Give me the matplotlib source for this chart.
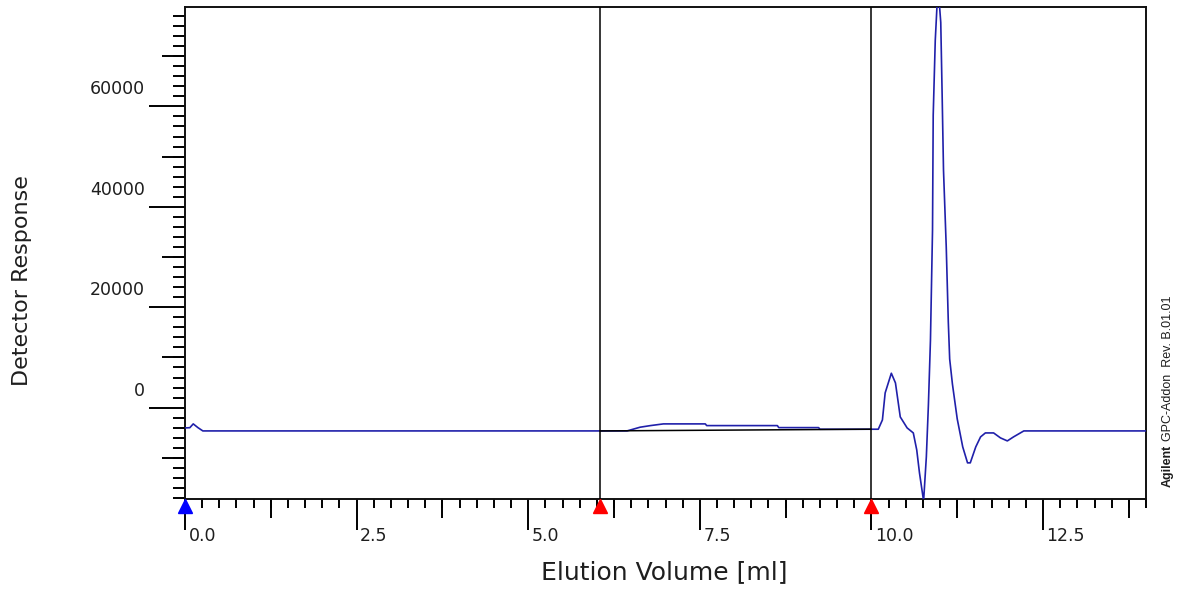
import matplotlib.pyplot as plt
from matplotlib.ticker import FixedLocator, MultipleLocator, NullFormatter
from matplotlib.transforms import ScaledTranslation

# elution trace (ml, detector response)
volume = [0.00, 0.07, 0.12, 0.19, 0.26, 6.44, 6.63, 6.78, 6.97, 7.58, 7.60,
          8.63, 8.65, 9.23, 9.25, 10.05, 10.10, 10.16, 10.20, 10.29, 10.35,
          10.42, 10.52, 10.61, 10.66, 10.70, 10.76, 10.80, 10.83, 10.86,
          10.89, 10.90, 10.93, 10.97, 11.01, 11.03, 11.05, 11.09, 11.12,
          11.14, 11.18, 11.25, 11.33, 11.40, 11.44, 11.52, 11.59, 11.66,
          11.78, 11.88, 11.98, 12.07, 12.22, 14.00]
response = [-4040, -4000, -3240, -4000, -4640, -4640, -3900, -3580, -3240,
            -3240, -3580, -3580, -3980, -3980, -4300, -4300, -4300, -2450,
            2930, 6850, 4920, -1850, -4040, -5040, -8420, -13000, -18600,
            -9810, 540, 13470, 35360, 58240, 73170, 84000, 76740, 62410,
            47290, 31960, 17030, 9670, 4690, -2250, -7820, -11000, -11000,
            -7820, -5830, -5040, -5040, -6030, -6630, -5830, -4640, -4640]

# integration limits and drawn baseline
limits = [6.05, 9.99]
baseline_x = [6.05, 9.99]
baseline_y = [-4640, -4300]
start_marker = [0.0]

x_major = [0.0, 2.5, 5.0, 7.5, 10.0, 12.5]
x_labels = ['0.0', '2.5', '5.0', '7.5', '10.0', '12.5']
y_major = [-20000, 0, 20000, 40000, 60000, 80000]
y_labels = ['', '0', '20000', '40000', '60000', '']

xmin, xmax = 0.0, 14.0
ymin, ymax = -18200, 79800

txt = '#1e1e1e'
fig = plt.figure(figsize=(11.88, 5.90), dpi=100)
ax = fig.add_axes([185 / 1188, 91 / 590, 961 / 1188, 492 / 590])

ax.plot(volume, response, color='#2020aa', lw=1.2, zorder=3)
ax.plot(baseline_x, baseline_y, color='black', lw=1.1, zorder=4)
for v in limits:
    ax.axvline(v, color='black', lw=1.1, zorder=4)

ax.set_xlim(xmin, xmax)
ax.set_ylim(ymin, ymax)

for s in ax.spines.values():
    s.set_linewidth(1.4)
    s.set_color('#111111')

# three tick levels: labelled major, unlabelled medium, small minor
ax.xaxis.set_major_locator(FixedLocator(x_major))
ax.set_xticklabels(x_labels)
ax.xaxis.set_minor_locator(MultipleLocator(0.25))
ax.yaxis.set_major_locator(FixedLocator(y_major))
ax.set_yticklabels(y_labels)
ax.yaxis.set_minor_locator(MultipleLocator(2000))
ax.tick_params(axis='x', which='major', length=22, width=1.4, pad=0,
               labelsize=12.5, labelcolor=txt)
ax.tick_params(axis='y', which='major', length=26, width=1.4, pad=3,
               labelsize=12.5, labelcolor=txt)
ax.tick_params(axis='x', which='minor', length=6.5, width=1.4)
ax.tick_params(axis='y', which='minor', length=8.5, width=1.4)

secx = ax.secondary_xaxis('bottom')
secx.xaxis.set_major_locator(FixedLocator([1.25, 3.75, 6.25, 8.75, 11.25, 13.75]))
secx.xaxis.set_major_formatter(NullFormatter())
secx.tick_params(length=14, width=1.4)
secx.spines['bottom'].set_visible(False)

secy = ax.secondary_yaxis('left')
secy.yaxis.set_major_locator(FixedLocator([-10000, 10000, 30000, 50000, 70000]))
secy.yaxis.set_major_formatter(NullFormatter())
secy.tick_params(length=16.5, width=1.4)
secy.spines['left'].set_visible(False)

dx = ScaledTranslation(0.035, 0.03, fig.dpi_scale_trans)
for lab in ax.get_xticklabels():
    lab.set_ha('left')
    lab.set_transform(lab.get_transform() + dx)
dy = ScaledTranslation(0, 0.19, fig.dpi_scale_trans)
for lab in ax.get_yticklabels():
    lab.set_transform(lab.get_transform() + dy)

# run markers under the axis
mk = ax.transData + ScaledTranslation(0, -0.07, fig.dpi_scale_trans)
ax.plot(limits, [ymin] * len(limits), '^', color='#ff0000', ms=9.5,
        transform=mk, clip_on=False, zorder=5)
ax.plot(start_marker, [ymin], '^', color='#0000ff', ms=9.5,
        transform=mk, clip_on=False, zorder=5)

fig.text(664 / 1188, 1 - 572 / 590, 'Elution Volume [ml]', ha='center',
         va='center', fontsize=18, color=txt)
fig.text(22 / 1188, 1 - 281 / 590, 'Detector Response', ha='center',
         va='center', rotation=90, fontsize=16, color=txt)

# vendor stamp: bold name, then the version text stacked above it
brand = fig.text(1168 / 1188, 1 - 487 / 590, 'Agilent', ha='center',
                 va='bottom', rotation=90, fontsize=9, fontweight='bold',
                 color=txt, family='Liberation Sans')
fig.canvas.draw()
bb = brand.get_window_extent()
fig.text(1168 / 1188, (bb.y1 + 4) / 590, 'GPC-Addon  Rev. B.01.01',
         ha='center', va='bottom', rotation=90, fontsize=9, color=txt,
         family='Liberation Sans')

fig.savefig('out.png', dpi=100)
